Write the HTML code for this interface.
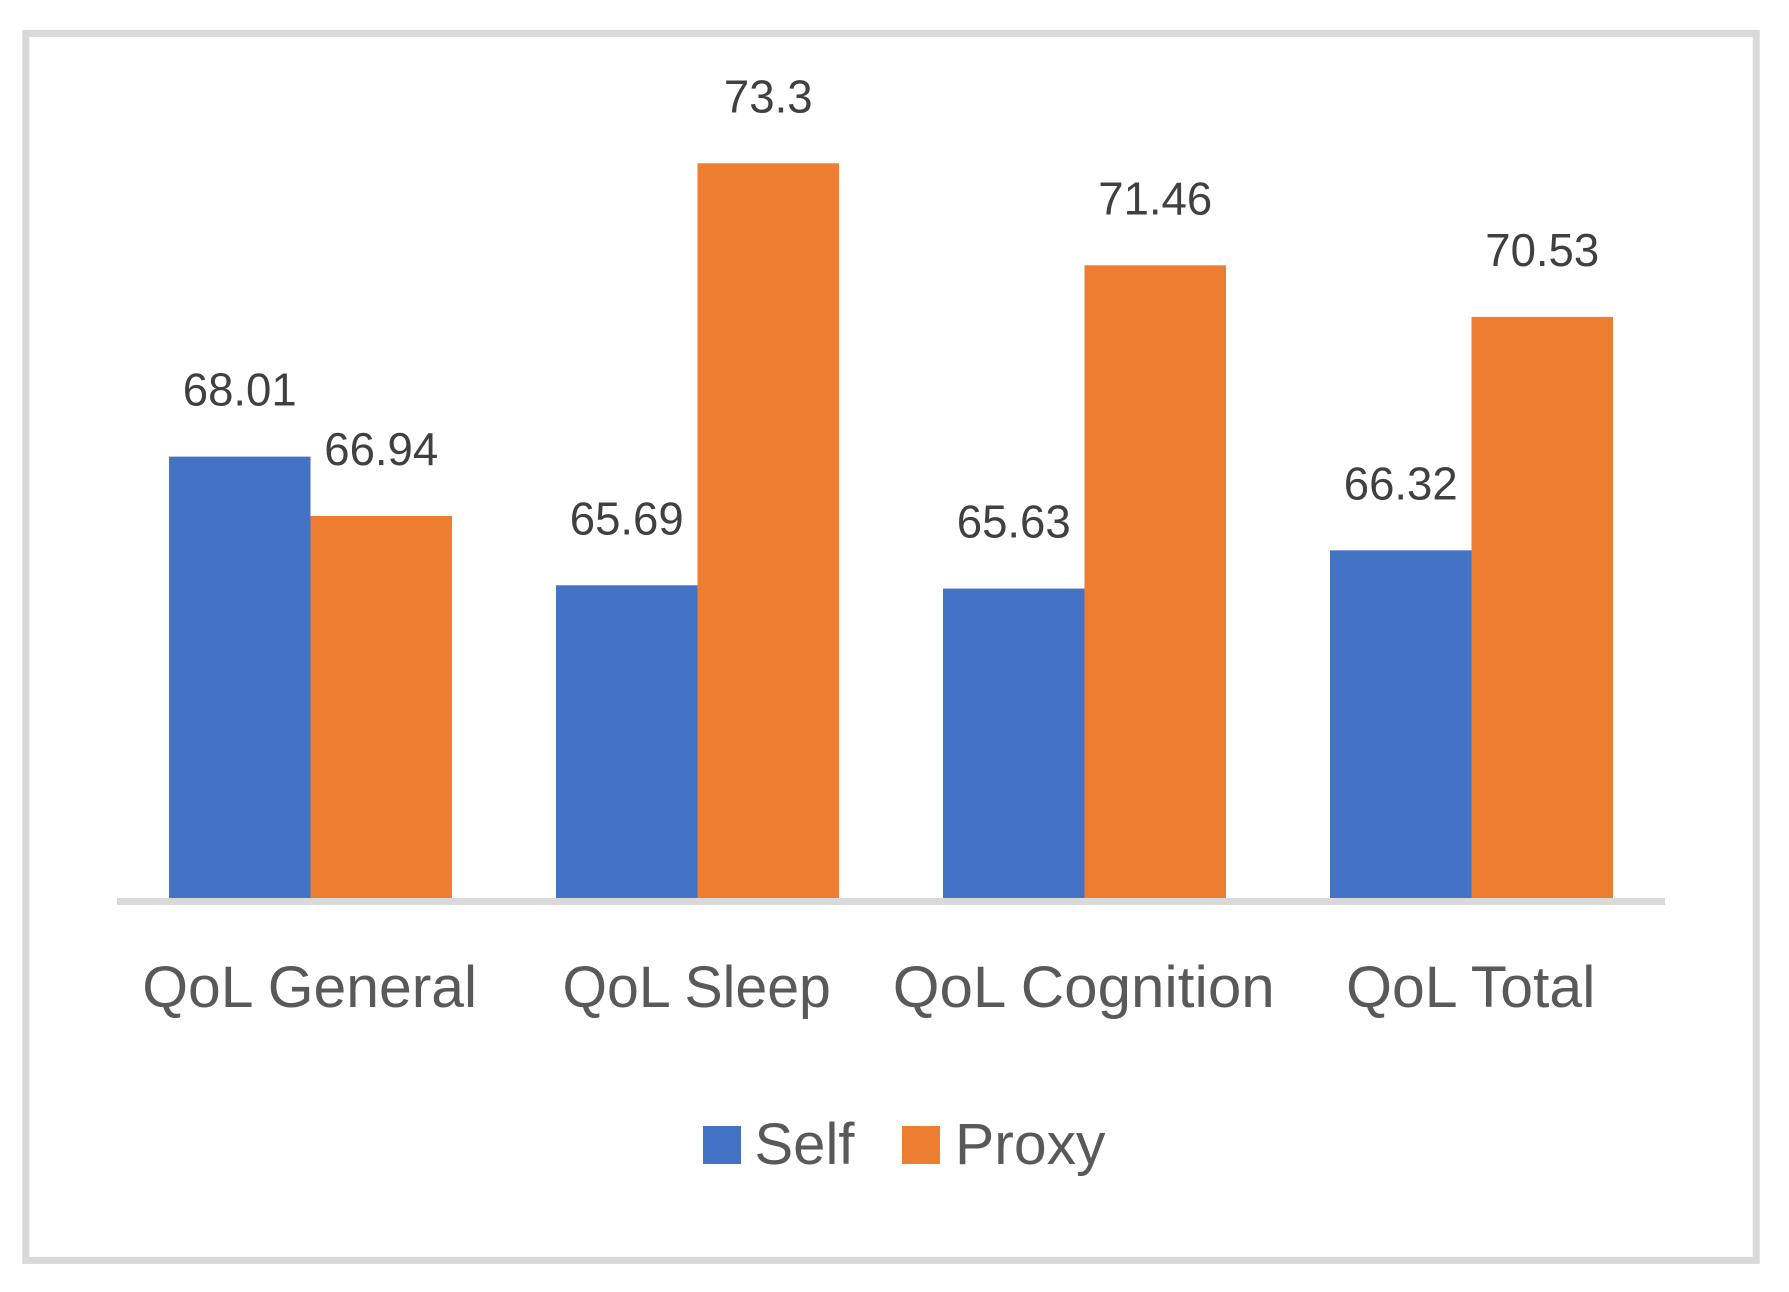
<!DOCTYPE html>
<html lang="en">
<head>
<meta charset="utf-8">
<title>QoL Self vs Proxy</title>
<style>
html,body{margin:0;padding:0;background:#fff;}
svg{display:block;}
text{font-family:"Liberation Sans",sans-serif;}
.value-label{font-size:46px;fill:#404040;text-anchor:middle;}
.category-label{font-size:58px;fill:#595959;text-anchor:middle;}
.legend-label{font-size:58px;fill:#595959;}
</style>
</head>
<body>
<svg id="chart" width="1789" height="1292" viewBox="0 0 1789 1292" xmlns="http://www.w3.org/2000/svg">
  <rect x="0" y="0" width="1789" height="1292" fill="#ffffff"/>
  <rect x="25.8" y="33.4" width="1730.4" height="1227" fill="#ffffff" stroke="#d9d9d9" stroke-width="7"/>
  <g id="bars"></g>
  <rect x="117" y="898" width="1548" height="7" fill="#d9d9d9"/>
  <g id="value-labels"></g>
  <g id="category-labels"></g>
  <g>
    <g>
      <rect x="703" y="1126" width="38" height="38" fill="#4472c4"/>
      <text class="legend-label" x="754.5" y="1164">Self</text>
    </g>
    <g>
      <rect x="902" y="1126" width="38" height="38" fill="#ed7d31"/>
      <text class="legend-label" x="955" y="1164" textLength="150.5" lengthAdjust="spacingAndGlyphs">Proxy</text>
    </g>
  </g>
</svg>
<script>
const categories = ["QoL General", "QoL Sleep", "QoL Cognition", "QoL Total"];
const selfValues = [68.01, 65.69, 65.63, 66.32];
const proxyValues = [66.94, 73.3, 71.46, 70.53];

const SVG_NS = "http://www.w3.org/2000/svg";
const axisLeft = 117, axisRight = 1665, baselineY = 898;
const axisMin = 60.05, pixelsPerUnit = 55.45;
const barWidth = 141.5;
const labelGap = 51;
const valueTextSqueeze = 0.99;
const categoryTextScale = { "QoL General": 1.015, "QoL Sleep": 0.987, "QoL Cognition": 1.036, "QoL Total": 1.017 };

function xCenter(i) {
  return axisLeft + (axisRight - axisLeft) / categories.length * (i + 0.5);
}
function yScale(v) {
  return baselineY - (v - axisMin) * pixelsPerUnit;
}

const barsGroup = document.getElementById("bars");
const valueGroup = document.getElementById("value-labels");
const categoryGroup = document.getElementById("category-labels");

function drawBar(value, x, color, seriesName, catIndex) {
  const top = yScale(value);
  const rect = document.createElementNS(SVG_NS, "rect");
  rect.setAttribute("x", x);
  rect.setAttribute("y", top);
  rect.setAttribute("width", barWidth);
  rect.setAttribute("height", baselineY - top);
  rect.setAttribute("fill", color);
  
  
  barsGroup.appendChild(rect);

  const label = document.createElementNS(SVG_NS, "text");
  label.setAttribute("class", "value-label");
  label.setAttribute("x", x + barWidth / 2);
  label.setAttribute("y", top - labelGap);
  label.textContent = String(value);
  
  
  valueGroup.appendChild(label);
  label.setAttribute("textLength", label.getComputedTextLength() * valueTextSqueeze);
  label.setAttribute("lengthAdjust", "spacingAndGlyphs");
}

categories.forEach(function (name, i) {
  const c = xCenter(i);
  drawBar(selfValues[i], c - barWidth, "#4472c4", "self", i);
  drawBar(proxyValues[i], c, "#ed7d31", "proxy", i);

  const t = document.createElementNS(SVG_NS, "text");
  t.setAttribute("class", "category-label");
  t.setAttribute("x", c - 0.8);
  t.setAttribute("y", 1007);
  t.textContent = name;
  
  
  categoryGroup.appendChild(t);
  t.setAttribute("textLength", t.getComputedTextLength() * (categoryTextScale[name] || 1));
  t.setAttribute("lengthAdjust", "spacingAndGlyphs");
});
</script>
</body>
</html>
